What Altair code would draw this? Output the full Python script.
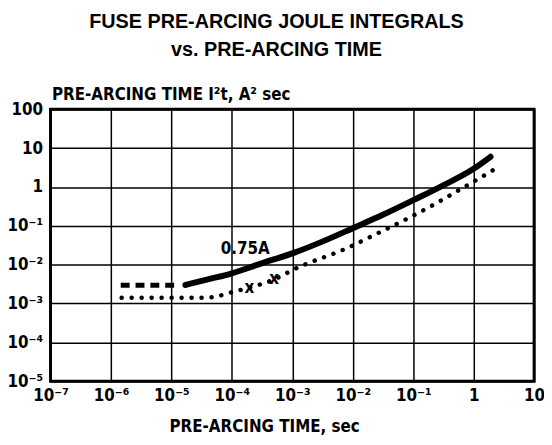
import altair as alt
import pandas as pd

FONT = "DejaVu Sans Condensed, Liberation Sans Narrow, sans-serif"

x_ticks = [1e-7, 1e-6, 1e-5, 1e-4, 1e-3, 1e-2, 1e-1, 1, 10]
x_tick_labels = ["10⁻⁷", "10⁻⁶", "10⁻⁵", "10⁻⁴", "10⁻³", "10⁻²", "10⁻¹", "1", "10"]
y_ticks = [1e-5, 1e-4, 1e-3, 1e-2, 1e-1, 1, 10, 100]
y_tick_labels = ["10⁻⁵", "10⁻⁴", "10⁻³", "10⁻²", "10⁻¹", "1", "10", "100"]

# 0.75A solid curve
solid_time = [1.7e-5, 4.0e-5, 1e-4, 3.2e-4, 1e-3, 3.2e-3, 1e-2, 3.2e-2, 0.1, 0.32, 1.0, 1.9]
solid_i2t = [3.0e-3, 4.17e-3, 6.0e-3, 1.1e-2, 1.95e-2, 3.98e-2, 8.7e-2, 0.195, 0.457, 1.12, 2.95, 6.0]
# dashed extension
dash_time = [1.45e-6, 1.2e-5]
dash_i2t = [2.95e-3, 2.95e-3]
# dotted curve
dot_time = [1.5e-6, 3.5e-5, 5e-5, 1.1e-4, 1.95e-4, 5e-4, 1.07e-3, 8.7e-3, 2.6e-2, 7.2e-2, 0.21, 0.575, 2.3]
dot_i2t = [1.41e-3, 1.41e-3, 1.48e-3, 2.04e-3, 2.57e-3, 4.17e-3, 7.6e-3, 2.82e-2, 6.46e-2, 0.141, 0.339, 0.832, 2.95]
# x markers
mark_time = [1.95e-4, 5e-4]
mark_i2t = [2.57e-3, 4.17e-3]
# curve label
label_text = ["0.75A"]
label_time = [1.66e-4]
label_i2t = [2.6e-2]

def js_list(items):
    return "[" + ",".join("'" + s + "'" for s in items) + "]"

x_expr = js_list(x_tick_labels) + "[round(log(datum.value)/LN10)+7]"
y_expr = js_list(y_tick_labels) + "[round(log(datum.value)/LN10)+5]"

xscale = alt.Scale(type="log", domain=[1e-7, 10], nice=False)
yscale = alt.Scale(type="log", domain=[1e-5, 100], nice=False)

xaxis = alt.Axis(values=x_ticks, labelExpr=x_expr, title="PRE-ARCING TIME, sec",
                 titleX=216, titleY=51, titleBaseline="alphabetic", titleAnchor="start",
                 titleAlign="center")
yaxis = alt.Axis(values=y_ticks, labelExpr=y_expr, title="PRE-ARCING TIME I²t, A² sec",
                 titleAngle=0, titleAlign="left", titleX=1, titleY=-10,
                 titleBaseline="alphabetic", titleAnchor="start")

solid_df = pd.DataFrame({"t": solid_time, "v": solid_i2t})
dash_df = pd.DataFrame({"t": dash_time, "v": dash_i2t})
dot_df = pd.DataFrame({"t": dot_time, "v": dot_i2t})
mark_df = pd.DataFrame({"t": mark_time, "v": mark_i2t, "s": ["x", "x"]})
label_df = pd.DataFrame({"t": label_time, "v": label_i2t, "s": label_text})

base_x = alt.X("t:Q", scale=xscale, axis=xaxis)
base_y = alt.Y("v:Q", scale=yscale, axis=yaxis)

solid = alt.Chart(solid_df).mark_line(color="black", strokeWidth=6, strokeCap="round",
                                      interpolate="monotone").encode(x=base_x, y=base_y)
dash = alt.Chart(dash_df).mark_line(color="black", strokeWidth=5, strokeDash=[9, 6]).encode(
    x=alt.X("t:Q", scale=xscale), y=alt.Y("v:Q", scale=yscale))
dots = alt.Chart(dot_df).mark_line(color="black", strokeWidth=4.5, strokeCap="round",
                                   strokeDash=[0.1, 10], interpolate="monotone").encode(
    x=alt.X("t:Q", scale=xscale), y=alt.Y("v:Q", scale=yscale))
marks = alt.Chart(mark_df).mark_text(font=FONT, fontSize=17, fontWeight="bold", color="black",
                                     baseline="middle", align="center").encode(
    x=alt.X("t:Q", scale=xscale), y=alt.Y("v:Q", scale=yscale), text="s:N")
label = alt.Chart(label_df).mark_text(font=FONT, fontSize=17, fontWeight="bold", color="black",
                                      baseline="middle", align="center").encode(
    x=alt.X("t:Q", scale=xscale), y=alt.Y("v:Q", scale=yscale), text="s:N")

chart = alt.layer(solid, dash, dots, marks, label).properties(
    width=489, height=275,
    autosize=alt.AutoSizeParams(type="none"),
    padding={"left": 43, "top": 100, "right": 10, "bottom": 56},
    title=alt.TitleParams(["FUSE PRE-ARCING JOULE INTEGRALS", "vs. PRE-ARCING TIME"],
                          font="Liberation Sans", fontSize=20,
                          fontWeight="bold", color="black", anchor="middle", frame="group",
                          dx=-16, offset=26, lineHeight=28),
).configure_view(stroke="black", strokeWidth=3).configure_axis(
    grid=True, gridColor="black", gridWidth=1.5, gridOpacity=1,
    domain=False, ticks=False,
    labelFont=FONT, labelFontSize=17, labelColor="black", labelPadding=8,
    labelFontWeight="bold",
    titleFont=FONT, titleFontSize=17, titleFontWeight="bold", titleColor="black",
).configure_axisX(labelPadding=6, labelFlush=False, labelOverlap=False
).configure_axisY(labelOverlap=False)

chart.save("out.html", embed_options={"renderer": "svg", "actions": False})
